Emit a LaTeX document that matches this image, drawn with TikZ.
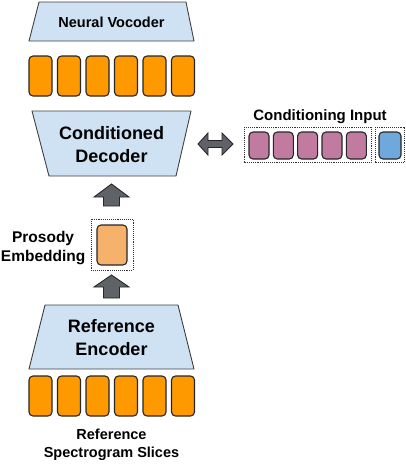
\documentclass[tikz,border=0pt]{standalone}
\usepackage{fontspec}
\setmainfont{Liberation Sans}
\begin{document}
\begin{tikzpicture}[x=1pt,y=-1pt,
  trap/.style={draw=black!75,fill=blueF,line width=0.9pt,line join=round},
  obox/.style={draw=black!85,fill=orangeF,line width=1.1pt,rounded corners=4pt},
  pbox/.style={draw=black!85,fill=purpleF,line width=1.1pt,rounded corners=4pt},
  bbox/.style={draw=black!85,fill=blueB,line width=1.1pt,rounded corners=4pt},
  ebox/.style={draw=black!85,fill=orangeL,line width=1.1pt,rounded corners=4pt},
  dotbox/.style={draw=black!80,densely dotted,line width=0.9pt},
  barrow/.style={draw=black!85,fill=arrowF,line width=0.9pt,line join=miter},
  lbl/.style={font=\bfseries,text=black,align=center,inner sep=0pt},
]
\definecolor{blueF}{HTML}{CFE2F3}
\definecolor{orangeF}{HTML}{FF9900}
\definecolor{orangeL}{HTML}{F6B26B}
\definecolor{purpleF}{HTML}{C27BA0}
\definecolor{blueB}{HTML}{6FA8DC}
\definecolor{arrowF}{HTML}{5F6368}
\useasboundingbox (0,0) rectangle (406,464);

% Neural Vocoder
\draw[trap] (39,2) -- (186,2) -- (194,41) -- (29,41) -- cycle;
\node[lbl,font=\fontsize{14.5}{17}\bfseries] (voc) at (111.5,22.5) {Neural Vocoder};

% top orange row
\foreach \x in {29,57.5,86,114.5,143,171.5}
  \draw[obox] (\x,56) rectangle (\x+23,96);

% Conditioned decoder
\draw[trap] (32,111) -- (191,111) -- (176,176) -- (49,176) -- cycle;
\node[lbl,font=\fontsize{18}{23}\bfseries] (dec) at (111.5,144.5) {Conditioned\\Decoder};

% up arrow 1
\draw[barrow] (111.5,184) -- (129,197) -- (119.5,197) -- (119.5,206) -- (103.5,206) -- (103.5,197) -- (94,197) -- cycle;

% prosody embedding
\draw[dotbox] (91,219) rectangle (133,270);
\draw[ebox] (97,225) rectangle (127,265);
\node[lbl,font=\fontsize{15.5}{19}\bfseries,anchor=east] (pros) at (85.5,248) {Prosody\\Embedding};

% up arrow 2
\draw[barrow] (111.5,275) -- (129,287) -- (119.5,287) -- (119.5,298) -- (103.5,298) -- (103.5,287) -- (94,287) -- cycle;

% Reference encoder
\draw[trap] (45,305) -- (178,305) -- (194,369) -- (29,369) -- cycle;
\node[lbl,font=\fontsize{18}{23}\bfseries] (enc) at (111.5,338) {Reference\\Encoder};

% bottom orange row
\foreach \x in {29,57.5,86,114.5,143,171.5}
  \draw[obox] (\x,376) rectangle (\x+23,416);

\node[lbl,font=\fontsize{14.5}{18}\bfseries] (spec) at (111.5,445) {Reference\\Spectrogram Slices};

% double arrow
\draw[barrow] (198,144) -- (208,133) -- (208,140.5) -- (222,140.5) -- (222,133) -- (233,144) -- (222,155) -- (222,147.5) -- (208,147.5) -- (208,155) -- cycle;

% conditioning input
\node[lbl,font=\fontsize{15}{17}\bfseries] (cin) at (320,117) {Conditioning Input};
\draw[dotbox] (244,127) rectangle (371,162);
\foreach \x in {249,273.3,297.6,322,346.3}
  \draw[pbox] (\x,132) rectangle (\x+20,159);
\draw[dotbox] (375,127) rectangle (404,162);
\draw[bbox] (379,132) rectangle (401,159);
\end{tikzpicture}
\end{document}
